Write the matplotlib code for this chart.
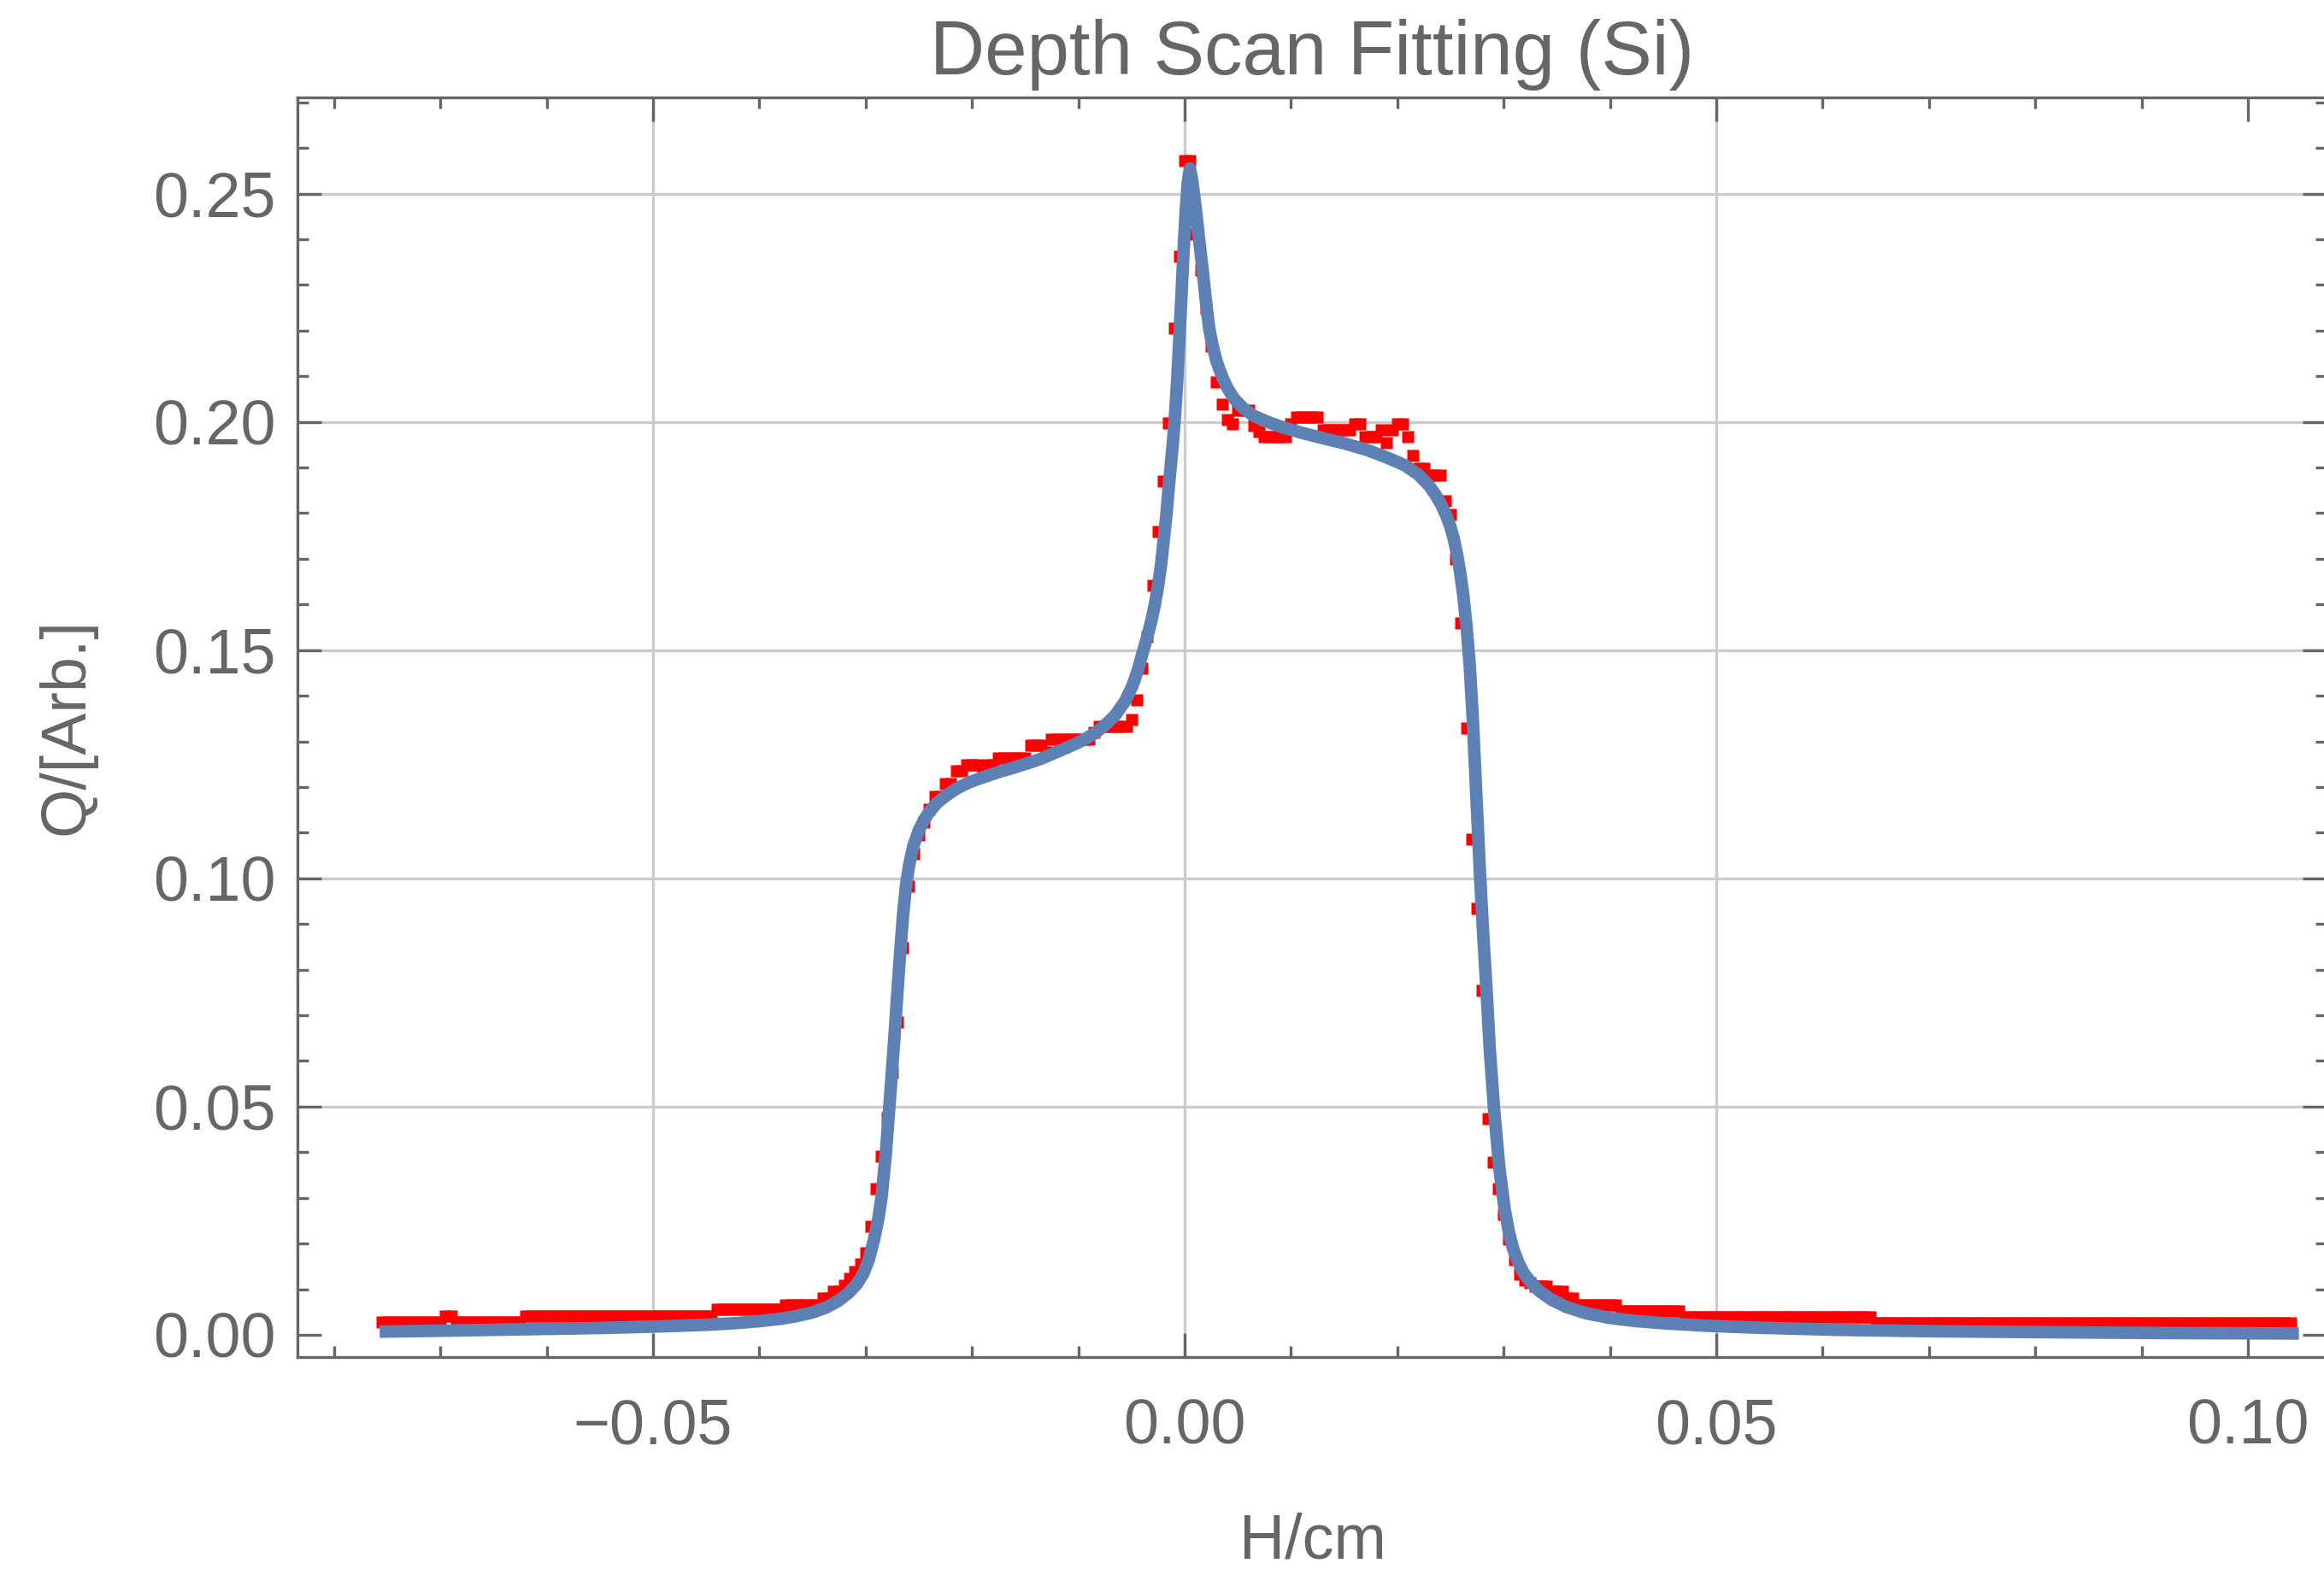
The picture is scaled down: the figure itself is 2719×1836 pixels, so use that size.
import numpy as np
import matplotlib
matplotlib.use("Agg")
import matplotlib.pyplot as plt

plt.rcParams["font.family"] = ["Liberation Sans", "DejaVu Sans"]

# ---------------------------------------------------------------------------
# Measured depth scan (red squares), sampled every 0.0005 cm.
# Each block starts at its own position on the H axis.
# ---------------------------------------------------------------------------
SCAN_STEP = 0.0005

tail_left_x0 = -0.0755
tail_left_y = [
    0.0028, 0.0028, 0.0028, 0.0028, 0.0028, 0.0028, 0.0028, 0.0028, 0.0028, 0.0028,
    0.0028, 0.0028, 0.0041, 0.0041, 0.0028, 0.0028, 0.0028, 0.0028, 0.0028, 0.0028,
    0.0028, 0.0028, 0.0028, 0.0028, 0.0028, 0.0028, 0.0028,
    0.0042, 0.0042, 0.0042, 0.0042, 0.0042, 0.0042, 0.0042, 0.0042, 0.0042, 0.0042,
    0.0042, 0.0042, 0.0042, 0.0042, 0.0042, 0.0042, 0.0042, 0.0042, 0.0042, 0.0042,
    0.0042, 0.0042, 0.0042, 0.0042, 0.0042, 0.0042, 0.0042, 0.0042, 0.0042, 0.0042,
    0.0042, 0.0042, 0.0042, 0.0042, 0.0042, 0.0042,
    0.0056, 0.0056, 0.0056, 0.0056, 0.0056, 0.0056, 0.0056, 0.0056, 0.0056, 0.0056,
    0.0056, 0.0056, 0.0056,
    0.0066, 0.0066, 0.0066, 0.0066, 0.0066, 0.0066, 0.0066,
]

edge_left_x0 = -0.0340
edge_left_y = [
    0.0080, 0.0080, 0.0095, 0.0095, 0.0109, 0.0123, 0.0138, 0.0155, 0.0179, 0.0237,
    0.0320, 0.0391, 0.0475, 0.0574, 0.0686, 0.0848, 0.0982, 0.1054, 0.1095, 0.1123,
    0.1151, 0.1179, 0.1179, 0.1207, 0.1207,
]

plateau_left_x0 = -0.0215
plateau_left_y = [
    0.1235, 0.1235, 0.1249, 0.1249, 0.1249, 0.1235, 0.1249, 0.1249,
    0.1263, 0.1263, 0.1263, 0.1263, 0.1263, 0.1263,
    0.1291, 0.1291, 0.1291, 0.1277,
    0.1305, 0.1305, 0.1305, 0.1305, 0.1305, 0.1305, 0.1305, 0.1305,
    0.1319,
    0.1333, 0.1333, 0.1333, 0.1333, 0.1333, 0.1333,
    0.1347,
]

peak_x0 = -0.0045
peak_y = [
    0.1390, 0.1460, 0.1530, 0.1642, 0.1760, 0.1870, 0.1997, 0.2206, 0.2362, 0.2573,
    0.2573, 0.2412, 0.2333, 0.2249, 0.2165, 0.2088, 0.2039, 0.2005, 0.1995,
]

plateau_right_x0 = 0.0050
plateau_right_y = [
    0.2025, 0.2025, 0.2025, 0.1992, 0.1978,
    0.1968, 0.1968, 0.1968, 0.1968, 0.1968,
    0.1996, 0.2010, 0.2010, 0.2010, 0.2010, 0.2010,
    0.1982, 0.1982, 0.1982, 0.1982, 0.1982, 0.1982,
    0.1996, 0.1996, 0.1968, 0.1968, 0.1968, 0.1982, 0.1954, 0.1982,
    0.1996, 0.1996, 0.1968, 0.1926, 0.1898, 0.1898,
    0.1883, 0.1883, 0.1883,
]

edge_right_x0 = 0.0245
edge_right_y = [
    0.1827, 0.1798, 0.1700, 0.1560, 0.1330, 0.1086, 0.0935, 0.0755, 0.0474, 0.0379,
    0.0320, 0.0264, 0.0210, 0.0165, 0.0133, 0.0120, 0.0115, 0.0107, 0.0107, 0.0107,
    0.0095, 0.0095, 0.0095, 0.0080, 0.0080,
]

tail_right_x0 = 0.0370
tail_right_y = [
    0.0066, 0.0066, 0.0066, 0.0066, 0.0066, 0.0066, 0.0066, 0.0066,
    0.0052, 0.0052, 0.0052, 0.0052, 0.0052, 0.0052, 0.0052, 0.0052, 0.0052, 0.0052,
    0.0052, 0.0052,
    0.0040, 0.0040, 0.0040, 0.0040, 0.0040, 0.0040, 0.0040, 0.0040, 0.0040, 0.0040,
    0.0040, 0.0040, 0.0040, 0.0040, 0.0040, 0.0040, 0.0040, 0.0040, 0.0040, 0.0040,
    0.0040, 0.0040, 0.0040, 0.0040, 0.0040, 0.0040, 0.0040, 0.0040, 0.0040, 0.0040,
    0.0040, 0.0040, 0.0040, 0.0040, 0.0040, 0.0040,
    0.0027, 0.0027, 0.0027, 0.0027, 0.0027, 0.0027, 0.0027, 0.0027, 0.0027, 0.0027,
    0.0027, 0.0027, 0.0027, 0.0027, 0.0027, 0.0027, 0.0027, 0.0027, 0.0027, 0.0027,
    0.0027, 0.0027, 0.0027, 0.0027, 0.0027, 0.0027, 0.0027, 0.0027, 0.0027, 0.0027,
    0.0027, 0.0027, 0.0027, 0.0027, 0.0027, 0.0027, 0.0027, 0.0027, 0.0027, 0.0027,
    0.0027, 0.0027, 0.0027, 0.0027, 0.0027, 0.0027, 0.0027, 0.0027, 0.0027, 0.0027,
    0.0027, 0.0027, 0.0027, 0.0027, 0.0027, 0.0027, 0.0027, 0.0027, 0.0027, 0.0027,
    0.0027, 0.0027, 0.0027, 0.0027, 0.0027, 0.0027, 0.0027, 0.0027, 0.0027, 0.0027,
    0.0027, 0.0027, 0.0027, 0.0027, 0.0027, 0.0027, 0.0027, 0.0027, 0.0027,
]

# ---------------------------------------------------------------------------
# Fitted model curve (blue), as (H, Q) nodes.
# ---------------------------------------------------------------------------
fit_curve = [
    (-0.0757, 0.0007), (-0.0700, 0.0009), (-0.0650, 0.0011), (-0.0600, 0.0013),
    (-0.0550, 0.0015), (-0.0500, 0.0018), (-0.0450, 0.0022), (-0.0420, 0.0026),
    (-0.0400, 0.0030), (-0.0380, 0.0035), (-0.0365, 0.0041), (-0.0350, 0.0049),
    (-0.0337, 0.0060), (-0.0326, 0.0074), (-0.0316, 0.0092), (-0.0308, 0.0112),
    (-0.0302, 0.0135), (-0.0297, 0.0165), (-0.0292, 0.0210), (-0.0288, 0.0255),
    (-0.0285, 0.0303), (-0.0281, 0.0397), (-0.0277, 0.0522), (-0.0273, 0.0650),
    (-0.0269, 0.0790), (-0.0265, 0.0915), (-0.0262, 0.0985), (-0.0259, 0.1030),
    (-0.0255, 0.1072), (-0.0250, 0.1105), (-0.0245, 0.1128), (-0.0240, 0.1146),
    (-0.0233, 0.1165), (-0.0225, 0.1180), (-0.0215, 0.1196), (-0.0203, 0.1210),
    (-0.0190, 0.1221), (-0.0176, 0.1232), (-0.0160, 0.1243), (-0.0145, 0.1254),
    (-0.0135, 0.1262), (-0.0123, 0.1274), (-0.0110, 0.1287), (-0.0096, 0.1302),
    (-0.0085, 0.1317), (-0.0075, 0.1335), (-0.0065, 0.1358), (-0.0056, 0.1388),
    (-0.0049, 0.1422), (-0.0044, 0.1456), (-0.0040, 0.1490), (-0.0035, 0.1530),
    (-0.0031, 0.1567), (-0.0028, 0.1600), (-0.0025, 0.1640), (-0.0022, 0.1690),
    (-0.0020, 0.1734), (-0.0017, 0.1800), (-0.0015, 0.1855), (-0.0013, 0.1905),
    (-0.0011, 0.1955), (-0.0009, 0.2015), (-0.0007, 0.2090), (-0.0005, 0.2180),
    (-0.0003, 0.2275), (-0.0001, 0.2375), (0.0001, 0.2460), (0.0003, 0.2525),
    (0.0005, 0.2555), (0.0007, 0.2530), (0.0009, 0.2495), (0.0011, 0.2456),
    (0.0014, 0.2392), (0.0017, 0.2331), (0.0020, 0.2265), (0.0023, 0.2206),
    (0.0026, 0.2170), (0.0030, 0.2133), (0.0033, 0.2113), (0.0036, 0.2095),
    (0.0040, 0.2075), (0.0046, 0.2052), (0.0055, 0.2030), (0.0065, 0.2013),
    (0.0080, 0.1998), (0.0092, 0.1988), (0.0110, 0.1976), (0.0132, 0.1963),
    (0.0150, 0.1953), (0.0172, 0.1938), (0.0190, 0.1922), (0.0207, 0.1905),
    (0.0220, 0.1884), (0.0230, 0.1860), (0.0236, 0.1840), (0.0241, 0.1820),
    (0.0246, 0.1795), (0.0250, 0.1770), (0.0253, 0.1745), (0.0256, 0.1712),
    (0.0259, 0.1672), (0.0262, 0.1622), (0.0265, 0.1555), (0.0268, 0.1472),
    (0.0271, 0.1350), (0.0273, 0.1250), (0.0276, 0.1100), (0.0278, 0.0999),
    (0.0281, 0.0870), (0.0284, 0.0753), (0.0287, 0.0625), (0.0291, 0.0495),
    (0.0296, 0.0365), (0.0301, 0.0275), (0.0305, 0.0225), (0.0309, 0.0188),
    (0.0314, 0.0158), (0.0319, 0.0135), (0.0326, 0.0114), (0.0333, 0.0097),
    (0.0345, 0.0077), (0.0359, 0.0061), (0.0378, 0.0047), (0.0400, 0.0037),
    (0.0425, 0.0030), (0.0453, 0.0025), (0.0490, 0.0020), (0.0534, 0.0016),
    (0.0614, 0.0011), (0.0700, 0.0008), (0.0800, 0.0006), (0.0920, 0.0004),
    (0.1048, 0.0003),
]

# Axis ticks, labels and grid positions
x_major = [-0.05, 0.00, 0.05, 0.10]
x_major_labels = ["\u22120.05", "0.00", "0.05", "0.10"]
x_minor = [-0.08, -0.07, -0.06, -0.04, -0.03, -0.02, -0.01, 0.01, 0.02, 0.03, 0.04,
           0.06, 0.07, 0.08, 0.09]
y_major = [0.00, 0.05, 0.10, 0.15, 0.20, 0.25]
y_major_labels = ["0.00", "0.05", "0.10", "0.15", "0.20", "0.25"]
y_minor = [0.01, 0.02, 0.03, 0.04, 0.06, 0.07, 0.08, 0.09, 0.11, 0.12, 0.13, 0.14,
           0.16, 0.17, 0.18, 0.19, 0.21, 0.22, 0.23, 0.24, 0.26, 0.27]
grid_x = [-0.05, 0.00, 0.05]
grid_y = [0.05, 0.10, 0.15, 0.20, 0.25]

title_text = "Depth Scan Fitting (Si)"
x_label_text = "H/cm"
y_label_text = "Q/[Arb.]"

# ---------------------------------------------------------------------------
# Figure
# ---------------------------------------------------------------------------
W, H, DPI = 2719, 1836, 200
GREY = "#666666"
fig = plt.figure(figsize=(W / DPI, H / DPI), dpi=DPI)
ax = fig.add_axes([348 / W, 1 - 1588 / H, (2722 - 348) / W, (1588 - 114) / H])

scan_blocks = [
    (tail_left_x0, tail_left_y),
    (edge_left_x0, edge_left_y),
    (plateau_left_x0, plateau_left_y),
    (peak_x0, peak_y),
    (plateau_right_x0, plateau_right_y),
    (edge_right_x0, edge_right_y),
    (tail_right_x0, tail_right_y),
]
scan_x = np.concatenate([x0 + SCAN_STEP * np.arange(len(v)) for x0, v in scan_blocks])
scan_y = np.concatenate([np.asarray(v) for _, v in scan_blocks])

fit_x = [p[0] for p in fit_curve]
fit_y = [p[1] for p in fit_curve]

for gx in grid_x:
    ax.axvline(gx, color="#cbcbcb", lw=1.2, zorder=1)
for gy in grid_y:
    ax.axhline(gy, color="#cbcbcb", lw=1.2, zorder=1)

ax.plot(scan_x, scan_y, ls="none", marker="s", ms=5.2, mfc="#ff0000", mec="none", zorder=3)
ax.plot(fit_x, fit_y, color="#5e81b5", lw=5.3, solid_joinstyle="round",
        solid_capstyle="butt", zorder=4)

ax.set_xlim(-0.08344, 0.10740)
ax.set_ylim(-0.00487, 0.27106)

ax.set_xticks(x_major)
ax.set_xticklabels(x_major_labels)
ax.set_xticks(x_minor, minor=True)
ax.set_yticks(y_major)
ax.set_yticklabels(y_major_labels)
ax.set_yticks(y_minor, minor=True)

for sp in ax.spines.values():
    sp.set_color(GREY)
    sp.set_linewidth(1.2)

ax.tick_params(which="both", direction="in", top=True, right=True, color=GREY, width=1.2)
ax.tick_params(which="major", length=10)
ax.tick_params(which="minor", length=4.7)
ax.tick_params(axis="both", which="major", labelsize=26.5, labelcolor=GREY)
ax.tick_params(axis="x", which="major", pad=17)
ax.tick_params(axis="y", which="major", pad=9)

fig.text(1535 / W, 1 - 87 / H, title_text, ha="center", va="baseline",
         fontsize=32, color=GREY)
fig.text(1536 / W, 1 - 1824 / H, x_label_text, ha="center", va="baseline",
         fontsize=26.5, color=GREY)
fig.text(78 / W, 1 - 850 / H, y_label_text, ha="center", va="center",
         rotation=90, fontsize=26.5, color=GREY)

fig.savefig("out.png", dpi=DPI)
